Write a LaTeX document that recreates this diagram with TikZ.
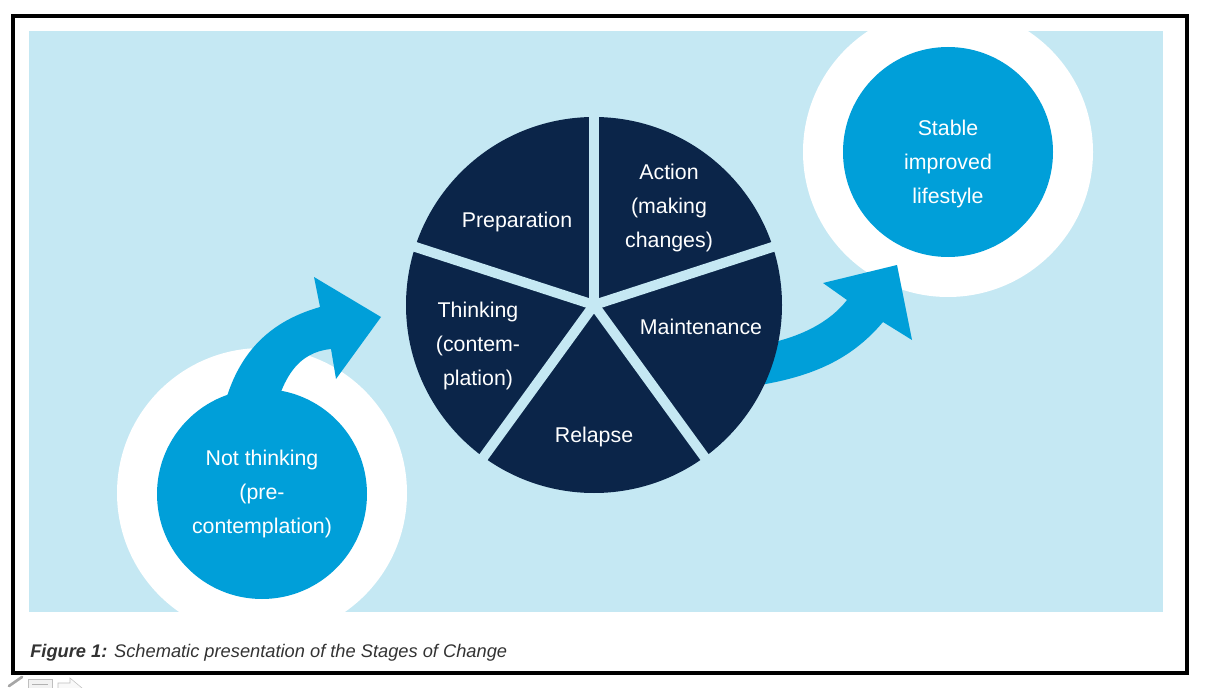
\documentclass[tikz,border=0pt]{standalone}
\usepackage{fontspec}
\setmainfont{Liberation Sans}
\definecolor{panelblue}{HTML}{C5E8F3}
\definecolor{stageblue}{HTML}{009FD9}
\definecolor{stagenavy}{HTML}{0B2549}
\definecolor{captiongray}{HTML}{333333}
\begin{document}
\begin{tikzpicture}[
		x=0.75pt, y=-0.75pt,
		ring/.style={circle, fill=white, minimum size=217.5pt, inner sep=0pt},
		disc/.style={circle, fill=stageblue, minimum size=157.5pt, inner sep=0pt},
		stagetext/.style={text=white, align=center, font=\fontsize{16}{25.5}\selectfont},
		flow/.style={fill=stageblue}
	]
	\useasboundingbox (0,0) rectangle (1207,688);
	% panel
	\fill[panelblue] (29,31) rectangle (1163,612);
	\begin{scope}
		\clip (29,31) rectangle (1163,612);
		\node[ring] (ntring) at (262,493) {};
		\node[ring] (string) at (948,152) {};
	\end{scope}
	% arrows
	\fill[flow] (218,440) .. controls (228,350) and (275,320) .. (320,307)
		-- (314,277) -- (381,317) -- (336,379) -- (331,349)
		.. controls (300,352) and (278,375) .. (270,440) -- cycle;
	\fill[flow] (760,345) .. controls (800,338) and (830,322) .. (847,300)
		-- (823,283) -- (897,265) -- (912,340) -- (883,322)
		.. controls (855,355) and (820,375) .. (760,385) -- cycle;
	% pie
	\coordinate (hub) at (594,305);
	\fill[stagenavy] (hub) circle (188);
	\foreach \a in {-90,-18,54,126,198}
		\draw[panelblue, line width=7.5pt] (hub) -- ++(\a:195);
	\node[stagetext] (prep) at (517,222) {Preparation};
	\node[stagetext] (action) at (669,208) {Action\\(making\\changes)};
	\node[stagetext] (maint) at (701,327) {Maintenance};
	\node[stagetext] (relapse) at (594,437) {Relapse};
	\node[stagetext] (think) at (478,346) {Thinking\\(contem-\\plation)};
	% end circles
	\node[disc, stagetext] (notthink) at (262,494) {Not thinking\\(pre-\\contemplation)};
	\node[disc] (stable) at (948,152) {};
	\node[stagetext] (stabletext) at (948,164) {Stable\\improved\\lifestyle};
	% caption
	\node[anchor=base west, inner sep=0pt, text=captiongray, font=\fontsize{13.7}{16}\selectfont\itshape] (caption) at (30,657)
		{\textbf{Figure 1:} Schematic presentation of the Stages of Change};
	\draw[line width=3pt] (13,16) rectangle (1186.5,672.5);
	% toolbar icons
	\draw[gray!70, line width=2pt, line cap=round] (9,686) -- (22,677);
	\draw[gray!50, fill=gray!10] (28,679) rectangle (52,692);
	\draw[gray!60] (32,684) -- (48,684);
	\draw[gray!50, fill=gray!5] (58,683) -- (70,683) -- (70,678) -- (82,688) -- (70,698) -- (70,693) -- (58,693) -- cycle;
\end{tikzpicture}
\end{document}
